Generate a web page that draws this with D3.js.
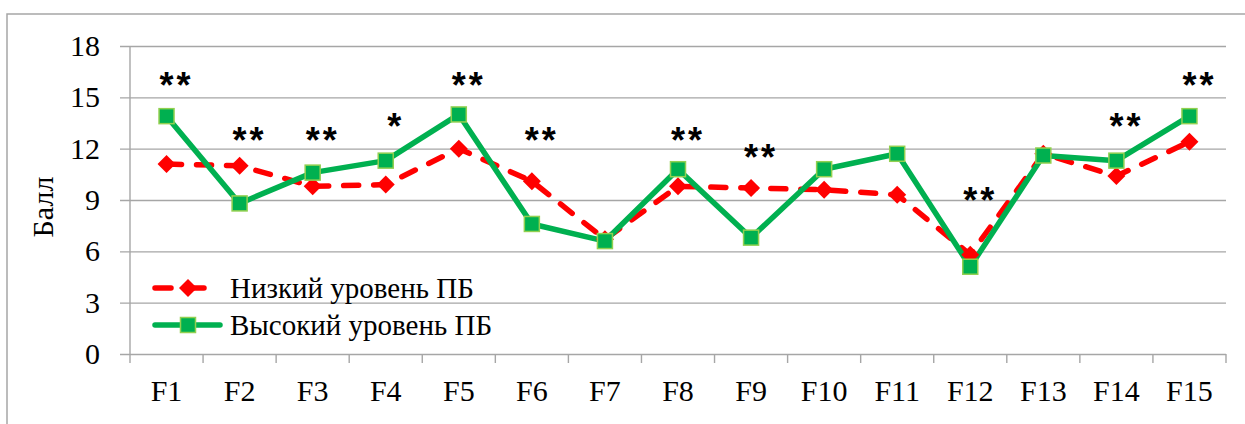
<!DOCTYPE html>
<html>
<head>
<meta charset="utf-8">
<script src="https://cdn.jsdelivr.net/npm/d3@7"></script>
<style>
  body { margin: 0; background: #fff; overflow: hidden; }
  svg { display: block; }
  text { font-family: "Liberation Serif", "Times New Roman", "DejaVu Serif", serif; fill: #000; }
  .stars { font-family: "Liberation Sans", Arial, sans-serif; font-weight: bold; }
</style>
</head>
<body>
<div id="container"></div>
<script>
// data
let categories = ["F1","F2","F3","F4","F5","F6","F7","F8","F9","F10","F11","F12","F13","F14","F15"];
let lowLevel  = [11.1, 11.0, 9.8, 9.9, 12.0, 10.1, 6.7, 9.8, 9.7, 9.6, 9.3, 5.8, 11.7, 10.4, 12.4];
let highLevel = [13.9, 8.8, 10.6, 11.3, 14.0, 7.6, 6.6, 10.8, 6.8, 10.8, 11.7, 5.1, 11.6, 11.3, 13.9];
let starText  = ["**","**","**","*","**","**","","**","**","","","**","","**","**"];
let starLevel = [16.1, 12.9, 12.9, 13.7, 16.1, 12.9, 0, 12.9, 11.9, 0, 0, 9.4, 0, 13.7, 16.1];
let yTicks = [0, 3, 6, 9, 12, 15, 18];
let seriesNames = ["Низкий уровень ПБ", "Высокий уровень ПБ"];

let width = 1245, height = 424;
let plotLeft = 130, plotRight = 1226, plotTop = 46, plotBottom = 354;
let serif = '"Liberation Serif", "Times New Roman", "DejaVu Serif", serif';

let svg = d3.select("#container").append("svg")
  .attr("width", width)
  .attr("height", height);

// outer chart frame (continues past right and bottom edge)
svg.append("rect")
  .attr("x", 7).attr("y", 14)
  .attr("width", 1300).attr("height", 500)
  .attr("fill", "none")
  .attr("stroke", "#a6a6a6")
  .attr("stroke-width", 1.5);

let x = d3.scaleBand().domain(categories).range([plotLeft, plotRight]);
let y = d3.scaleLinear().domain([0, 18]).range([plotBottom, plotTop]);
let cx = (d) => x(d) + x.bandwidth() / 2;

// y axis with gridlines
let yAxis = svg.append("g")
  .attr("transform", `translate(${plotLeft - 10},0)`)
  .call(d3.axisLeft(y).tickValues(yTicks).tickSize(-(plotRight - plotLeft + 10)).tickPadding(20));
yAxis.select(".domain").remove();
yAxis.attr("font-family", serif).attr("font-size", 30);
yAxis.selectAll("line").attr("stroke", "#a6a6a6").attr("stroke-width", 1.4);
yAxis.selectAll("text").attr("fill", "#000");

// vertical axis line
svg.append("line")
  .attr("x1", plotLeft).attr("x2", plotLeft)
  .attr("y1", plotTop).attr("y2", plotBottom)
  .attr("stroke", "#a6a6a6").attr("stroke-width", 1.4);

// x axis labels
let xAxis = svg.append("g")
  .attr("transform", `translate(0,${plotBottom})`)
  .call(d3.axisBottom(x).tickSize(0).tickPadding(26));
xAxis.select(".domain").remove();
xAxis.attr("font-family", serif).attr("font-size", 30);
xAxis.selectAll("text").attr("fill", "#000");

// category boundary ticks
let bounds = categories.map((d) => x(d)).concat([plotRight]);
svg.selectAll(".btick").data(bounds).enter().append("line")
  .attr("class", "btick")
  .attr("x1", (d) => d).attr("x2", (d) => d)
  .attr("y1", plotBottom).attr("y2", plotBottom + 9)
  .attr("stroke", "#a6a6a6").attr("stroke-width", 1.4);

svg.append("text")
  .attr("transform", `translate(42,${(plotTop + plotBottom) / 2 + 7}) rotate(-90)`)
  .attr("text-anchor", "middle")
  .attr("dominant-baseline", "central")
  .attr("font-size", 30)
  .text("Балл");

let line = d3.line().x((d, i) => cx(categories[i])).y((d) => y(d));

svg.append("path")
  .datum(lowLevel)
  .attr("d", line)
  .attr("fill", "none")
  .attr("stroke", "#ff0000")
  .attr("stroke-width", 5.5)
  .attr("stroke-linecap", "round")
  .attr("stroke-dasharray", "15,15");

svg.append("path")
  .datum(highLevel)
  .attr("d", line)
  .attr("fill", "none")
  .attr("stroke", "#00b050")
  .attr("stroke-width", 5.5)
  .attr("stroke-linejoin", "round");

let diamond = (px, py, r) => `M${px},${py - r}L${px + r},${py}L${px},${py + r}L${px - r},${py}Z`;

svg.selectAll(".low").data(lowLevel).enter().append("path")
  .attr("class", "low")
  .attr("d", (d, i) => diamond(cx(categories[i]), y(d), 9))
  .attr("fill", "#ff0000");

svg.selectAll(".high").data(highLevel).enter().append("rect")
  .attr("class", "high")
  .attr("x", (d, i) => cx(categories[i]) - 7.5)
  .attr("y", (d) => y(d) - 7.5)
  .attr("width", 15).attr("height", 15)
  .attr("fill", "#00b050")
  .attr("stroke", "#92d050")
  .attr("stroke-width", 1.5);

// significance stars
let starSize = 36;
svg.selectAll(".stars").data(starText).enter().append("text")
  .attr("class", "stars")
  .attr("x", (d, i) => cx(categories[i]) + 10)
  .attr("y", (d, i) => y(starLevel[i]) + 0.55 * starSize)
  .attr("text-anchor", "middle")
  .attr("font-size", starSize)
  .attr("letter-spacing", 3)
  .text((d) => d);

// legend
let legend = svg.append("g");
let rows = [
  { name: seriesNames[0], color: "#ff0000", y: 288, dashed: true },
  { name: seriesNames[1], color: "#00b050", y: 325, dashed: false },
];
rows.forEach((r) => {
  legend.append("line")
    .attr("x1", 155).attr("x2", 220)
    .attr("y1", r.y).attr("y2", r.y)
    .attr("stroke", r.color)
    .attr("stroke-width", 5.5)
    .attr("stroke-linecap", "round")
    .attr("stroke-dasharray", r.dashed ? "16,17" : null);
  if (r.dashed) {
    legend.append("path").attr("d", diamond(188, r.y, 9)).attr("fill", r.color);
  } else {
    legend.append("rect")
      .attr("x", 180.5).attr("y", r.y - 7.5)
      .attr("width", 15).attr("height", 15)
      .attr("fill", "#00b050").attr("stroke", "#92d050").attr("stroke-width", 1.5);
  }
  legend.append("text")
    .attr("x", 230).attr("y", r.y)
    .attr("dominant-baseline", "central")
    .attr("font-size", 29)
    .text(r.name);
});
</script>
</body>
</html>
